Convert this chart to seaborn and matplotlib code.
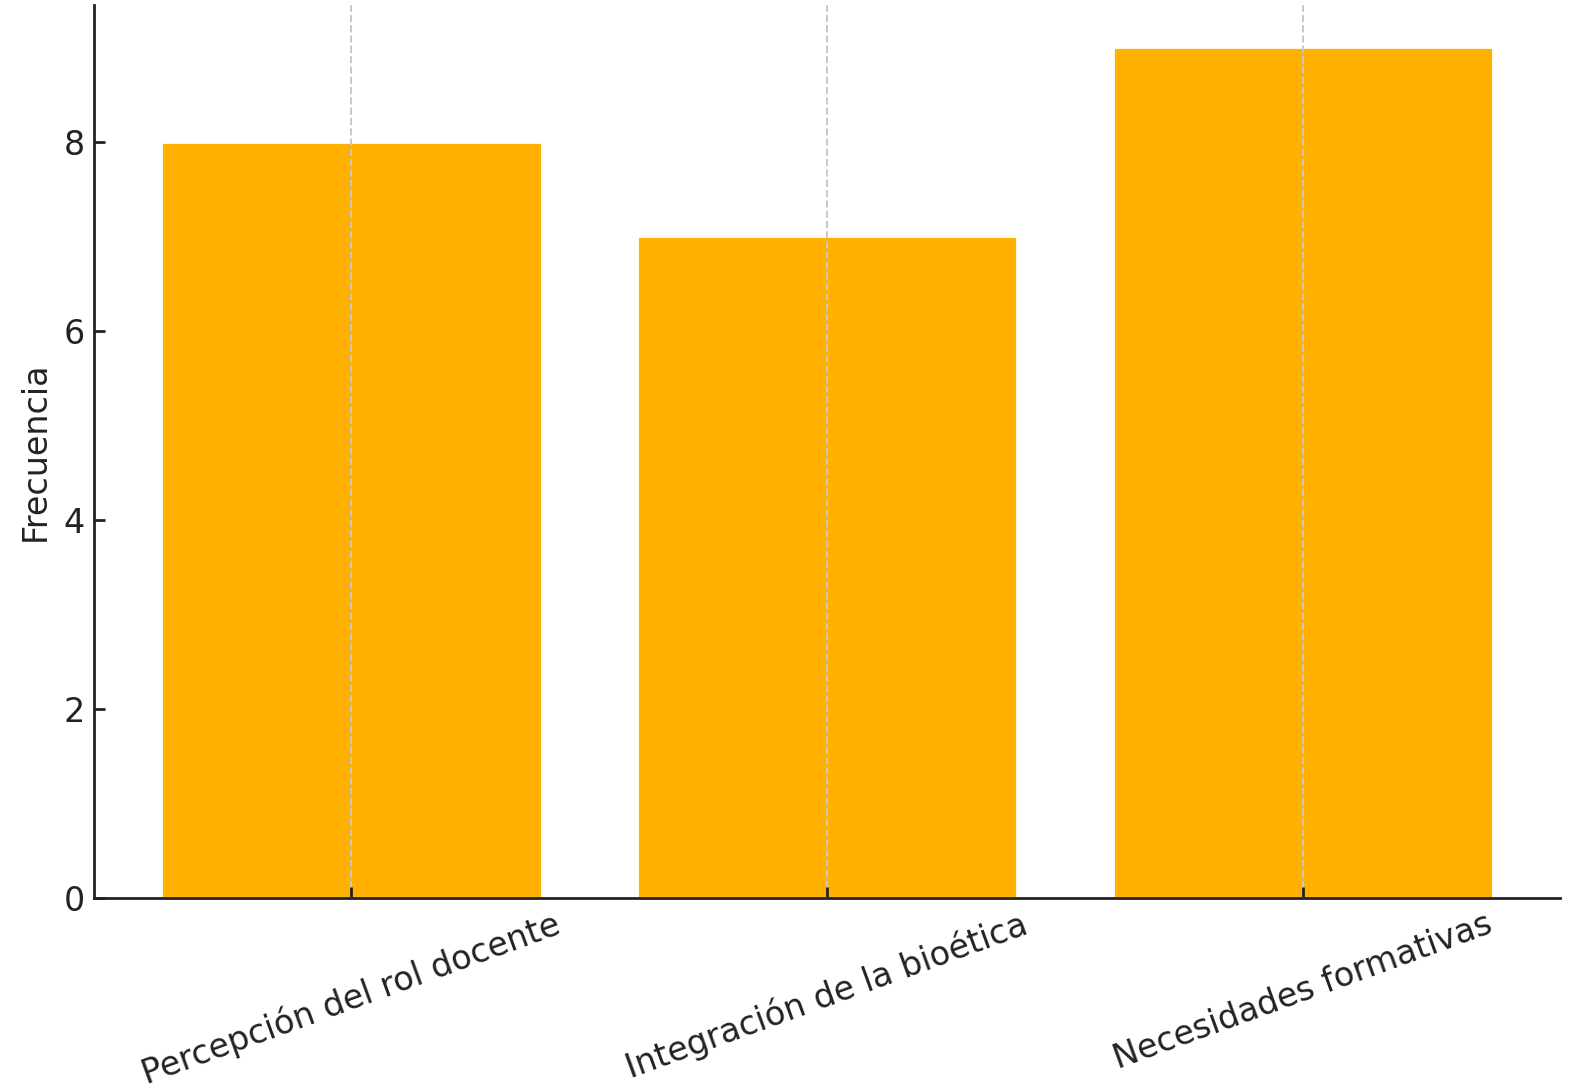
import pandas as pd
import seaborn as sns
import matplotlib
matplotlib.use('Agg')
import matplotlib.pyplot as plt

categorias = ['Percepción del rol docente', 'Integración de la bioética', 'Necesidades formativas']
frecuencias = [8, 7, 9]

df = pd.DataFrame({'categoria': categorias, 'frecuencia': frecuencias})

sns.set_style('white')
plt.rcParams['font.family'] = ['DejaVu Sans']

fig = plt.figure(figsize=(7.88, 5.45), dpi=200)
ax = fig.add_axes([0.0598, 0.1765, 0.9300, 0.8190])
sns.barplot(data=df, x='categoria', y='frecuencia', color='#FFB000', saturation=1, width=0.8, ax=ax)

ax.set_axisbelow(False)
ax.xaxis.grid(True, linestyle='--', color='#c8c8c8', linewidth=0.7)
ax.yaxis.grid(False)
sns.despine(ax=ax)
for s in ['left', 'bottom']:
    ax.spines[s].set_color('#222222')
    ax.spines[s].set_linewidth(1.0)

ax.tick_params(axis='both', direction='in', length=4, width=1, color='#222222',
               labelsize=12, labelcolor='#222222', bottom=True, left=True)
ax.tick_params(axis='x', pad=3.5)
ax.set_xticks(range(len(categorias)))
ax.set_xticklabels(categorias, rotation=20, ha='center')
ax.set_xlim(-0.54, len(categorias) - 1 + 0.54)
ax.set_ylim(0, max(frecuencias) * 1.05)
ax.set_xlabel('')
ax.set_ylabel('Frecuencia', fontsize=12, color='#222222')
ax.set_yticks([0, 2, 4, 6, 8])

fig.savefig('out.png', dpi=200)
